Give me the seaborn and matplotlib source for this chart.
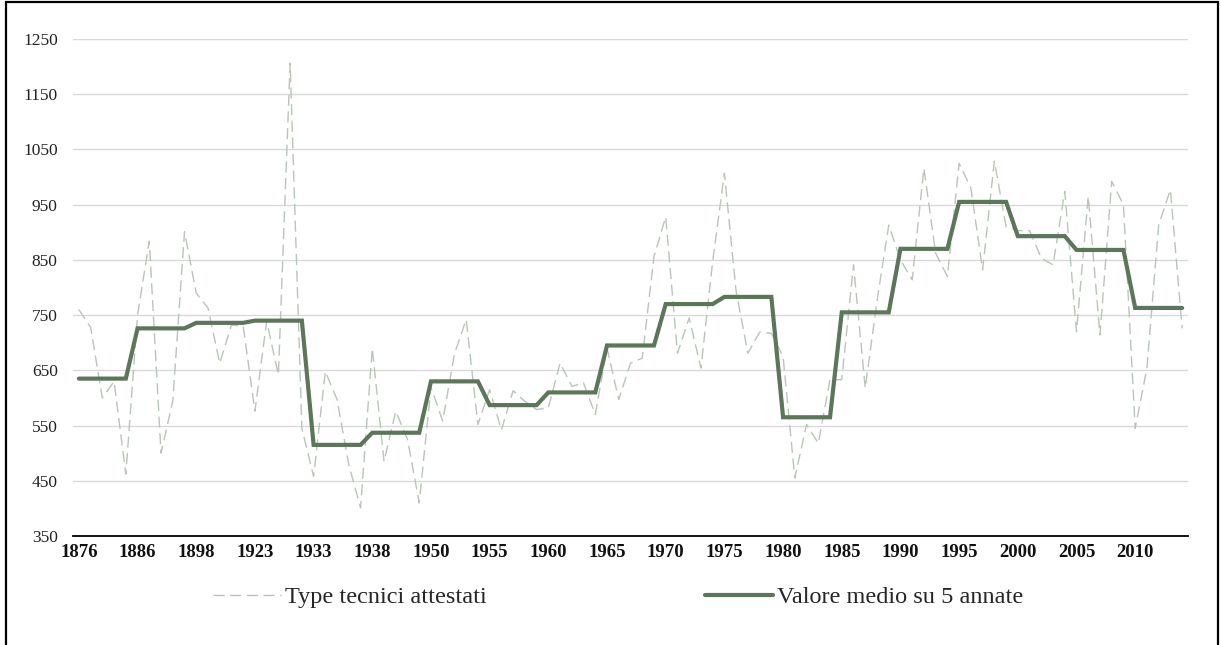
import matplotlib
matplotlib.use("Agg")
import matplotlib.pyplot as plt
import numpy as np
import pandas as pd
import seaborn as sns
from matplotlib.patches import Rectangle

# yearly counts (one point per attested year, category axis)
type_tecnici = [
    760, 728, 600, 630, 462,
    750, 884, 500, 594, 901,
    790, 763, 663, 732, 730,
    576, 739, 642, 1206, 545,
    458, 648, 597, 479, 401,
    690, 485, 576, 525, 410,
    620, 558, 680, 742, 552,
    615, 542, 613, 594, 579,
    582, 663, 621, 627, 570,
    690, 597, 663, 672, 856,
    928, 681, 745, 654, 847,
    1007, 793, 681, 719, 717,
    675, 455, 552, 518, 633,
    633, 841, 618, 775, 913,
    850, 814, 1016, 862, 820,
    1025, 980, 832, 1029, 910,
    903, 903, 853, 841, 974,
    720, 965, 714, 992, 950,
    545, 654, 913, 977, 726,
]

# mean value of each block of 5 years
valore_medio = [635, 726, 736, 740, 515, 537, 630, 587, 610, 695,
                770, 783, 565, 755, 870, 955, 893, 868, 763]

tick_labels = ["1876", "1886", "1898", "1923", "1933", "1938", "1950",
               "1955", "1960", "1965", "1970", "1975", "1980", "1985",
               "1990", "1995", "2000", "2005", "2010"]

y_ticks = [350, 450, 550, 650, 750, 850, 950, 1050, 1150, 1250]

DASH_COLOR = "#b7c6b6"
MEAN_COLOR = "#5c765a"

sns.set_theme(style="whitegrid")
plt.rcParams["font.family"] = ["Liberation Serif", "DejaVu Serif"]

n = len(type_tecnici)
df = pd.DataFrame({
    "pos": np.arange(n),
    "type": type_tecnici,
    "medio": np.repeat(valore_medio, 5)[:n],
})

fig = plt.figure(figsize=(12.21, 6.45), dpi=100)
ax = fig.add_axes([73 / 1221, 1 - 536 / 645, (1188 - 73) / 1221, (536 - 39) / 645])

sns.lineplot(data=df, x="pos", y="type", ax=ax, color=DASH_COLOR,
             linewidth=1.0, linestyle=(0, (8, 4)), label="Type tecnici attestati")
sns.lineplot(data=df, x="pos", y="medio", ax=ax, color=MEAN_COLOR,
             linewidth=3.0, label="Valore medio su 5 annate",
             solid_joinstyle="miter")

ax.set_xlim(-0.5, n - 0.5)
ax.set_ylim(350, 1250)
ax.set_yticks(y_ticks)
ax.set_yticklabels([str(v) for v in y_ticks], fontsize=12.5, color="#222222")
ax.set_xticks(np.arange(0, n, 5))
ax.set_xticklabels(tick_labels, fontsize=13.5, fontweight="bold", color="#111111")
ax.tick_params(axis="y", length=0, pad=11)
ax.tick_params(axis="x", length=0, pad=6)
ax.set_xlabel("")
ax.set_ylabel("")

ax.grid(axis="x", visible=False)
ax.grid(axis="y", color="#d9d9d9", linewidth=1.0)
for side in ["left", "right", "top"]:
    ax.spines[side].set_visible(False)
ax.spines["bottom"].set_color("black")
ax.spines["bottom"].set_linewidth(1.3)

ax.legend(loc="center", bbox_to_anchor=(0.489, -0.123), ncol=2,
          frameon=False, fontsize=17.5, handlelength=2.8, handletextpad=0.15,
          columnspacing=9.0)

# black frame around the whole picture
fig.patches.append(Rectangle((6 / 1221, -0.02), 1212 / 1221, 1.02 - 2 / 645,
                             transform=fig.transFigure, fill=False,
                             edgecolor="black", linewidth=1.6))

fig.savefig("out.png", dpi=100)
